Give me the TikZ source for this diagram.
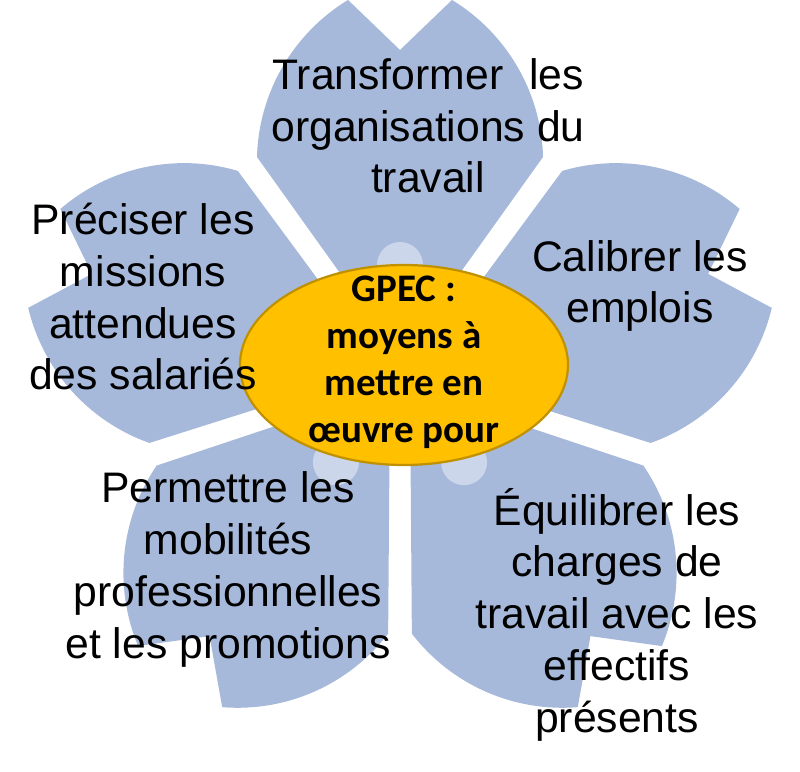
\documentclass[tikz,border=0pt]{standalone}
\usepackage{fontspec}
\setmainfont{Liberation Sans}
\newfontfamily\gpecfont{Carlito}
\usetikzlibrary{shapes.geometric,calc}
\definecolor{petalblue}{HTML}{A6B9DA}
\definecolor{petallight}{HTML}{CCD6EA}
\definecolor{gpecfill}{HTML}{FFC000}
\definecolor{gpecline}{HTML}{BF9000}
\tikzset{
  petalfill/.style={fill=petalblue},
  budfill/.style={fill=petallight},
  petaltext/.style={align=center, anchor=base, inner sep=0pt,
    font=\fontsize{42.7}{51.7}\selectfont, text=black},
  centertext/.style={align=center, anchor=base, inner sep=0pt,
    font=\gpecfont\bfseries\fontsize{39}{47.2}\selectfont, text=black},
  hub/.style={ellipse, fill=gpecfill, draw=gpecline, line width=2.2pt,
    minimum width=328pt, minimum height=200pt, inner sep=0pt}
}
\newcommand{\flowerpetal}[1]{%
  \begin{scope}[shift={(fc)}, rotate=#1]
    \fill[petalfill] (0,17) -- (-143,217)
      arc[start angle=178.5, end angle=121.3, radius=189.6pt]
      -- (0,324) -- (52,374)
      arc[start angle=58.7, end angle=1.5, radius=189.6pt]
      -- (143,217) -- cycle;
  \end{scope}}
\newcommand{\flowerbud}[1]{%
  \fill[budfill] ($(fc)+(#1:109)$) circle[radius=23pt];}
\begin{document}
\begin{tikzpicture}[x=1pt,y=1pt]
\useasboundingbox (0,0) rectangle (800,771);
\clip (0,0) rectangle (800,771);
\coordinate (fc) at (400,397);
\flowerpetal{0}
\flowerpetal{-72}
\flowerpetal{-144}
\flowerpetal{144}
\flowerpetal{72}
\flowerbud{90}
\flowerbud{18}
\flowerbud{-54}
\flowerbud{-126}
\flowerbud{162}
\node[hub] (gpec) at (404,406) {};
\node[centertext] (gpectxt) at (404,328) {GPEC :\\moyens à\\mettre en\\œuvre pour};
\node[petaltext] (ptop) at (428,578) {Transformer\hspace{14pt} les\\organisations du\\travail};
\node[petaltext] (pleft) at (143,381) {Préciser les\\missions\\attendues\\des salariés};
\node[petaltext] (pright) at (640,448) {Calibrer les\\emplois};
\node[petaltext] (plowleft) at (228,113) {Permettre les\\mobilités\\professionnelles\\et les promotions};
\node[petaltext] (plowright) at (617,39) {Équilibrer les\\charges de\\travail avec les\\effectifs\\présents};
\end{tikzpicture}
\end{document}
